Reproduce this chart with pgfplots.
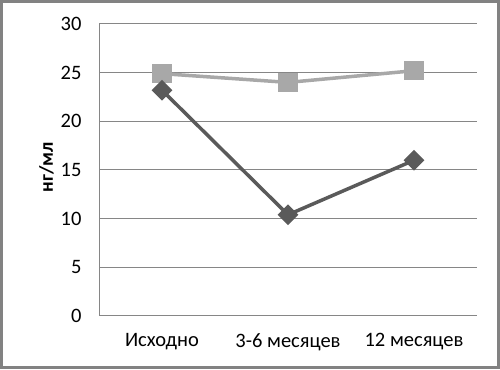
\documentclass[border=0pt]{standalone}
\usepackage{pgfplots}
\pgfplotsset{compat=1.18}
\usepackage{fontspec}
\setmainfont{Carlito}
\definecolor{darkser}{HTML}{5A5A5A}
\definecolor{lightser}{HTML}{A8A8A8}
\definecolor{gridc}{HTML}{868686}
\definecolor{framec}{HTML}{828282}
\begin{document}
\begin{tikzpicture}[x=1pt,y=1pt]
\useasboundingbox (0,0) rectangle (500,369);
\draw[framec,line width=3pt] (1.5,1.5) rectangle (498.5,367.5);
\begin{axis}[
  at={(99pt,53pt)}, anchor=south west,
  scale only axis, width=378pt, height=292pt,
  xmin=-0.5, xmax=2.5, ymin=0, ymax=30,
  xtick={0,1,2}, xticklabels={Исходно,3-6 месяцев,12 месяцев},
  ytick={0,5,...,30},
  axis x line*=bottom, axis y line*=left,
  axis line style={gridc,line width=1pt,-},
  major tick length=0pt,
  ymajorgrids, grid style={gridc,line width=1pt},
  tick label style={font=\fontsize{20.5}{23}\selectfont, text=black},
  /pgf/number format/assume math mode=true,
  yticklabel style={xshift=-14pt},
  xticklabel style={yshift=-14pt},
  ylabel={\textbf{нг/мл}},
  ylabel style={font=\fontsize{19.5}{22}\selectfont, at={(ticklabel cs:0.5)}, xshift=3pt},
  clip=false,
]
\addplot[lightser, line width=3.5pt, mark=square*, mark size=8pt, mark options={solid}] coordinates {(0,24.9) (1,24.0) (2,25.2)};
\addplot[darkser, line width=3.5pt, mark=square*, mark size=5.6pt, mark options={solid,rotate=45}] coordinates {(0,23.2) (1,10.4) (2,16.0)};
\end{axis}
\end{tikzpicture}
\end{document}
